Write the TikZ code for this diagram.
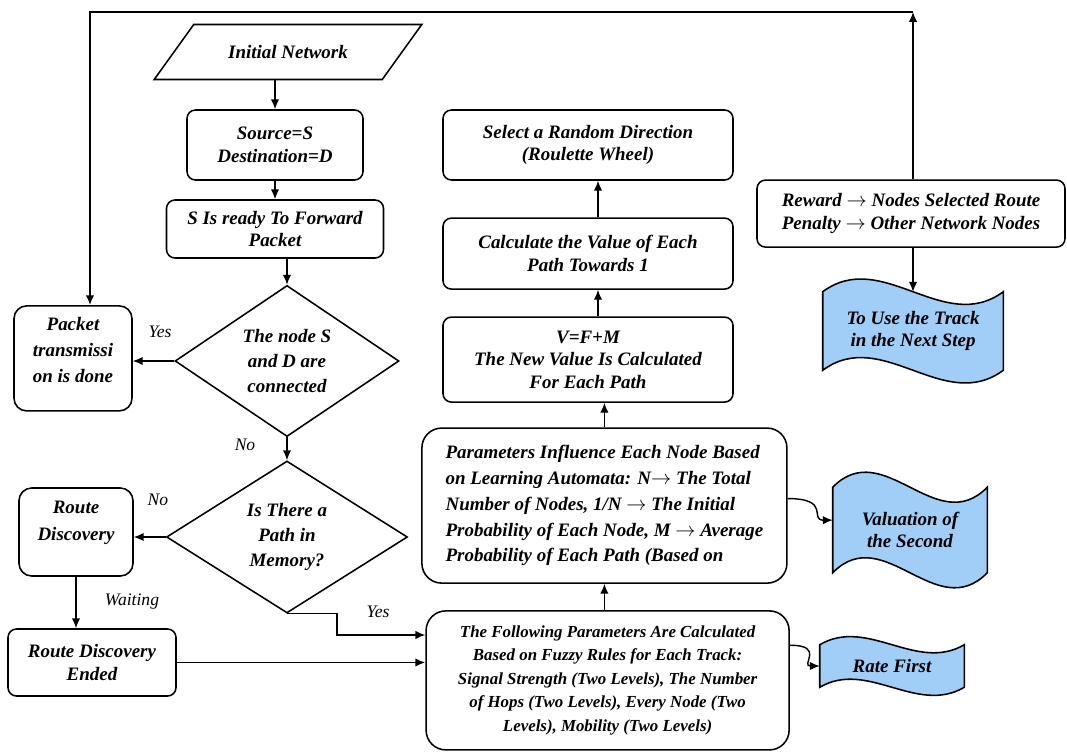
\documentclass[tikz,border=0pt]{standalone}
\usepackage{fontspec}
\setmainfont{Liberation Serif}
\usepackage{tikz}
\usetikzlibrary{arrows.meta,shapes.geometric,calc,backgrounds}
\definecolor{waveblue}{RGB}{160,206,247}

\newcommand{\boxfont}{\bfseries\itshape\fontsize{13.5}{16}\selectfont}
\newcommand{\wavebox}[2]{%
  \begin{scope}[on background layer]
  \draw[line width=1.1pt, fill=waveblue] (#1.north west)
    .. controls ($(#1.north west)!0.33!(#1.north east)+(0,#2)$)
    and ($(#1.north west)!0.67!(#1.north east)-(0,#2)$) .. (#1.north east)
    -- (#1.south east)
    .. controls ($(#1.south west)!0.67!(#1.south east)-(0,#2)$)
    and ($(#1.south west)!0.33!(#1.south east)+(0,#2)$) .. (#1.south west)
    -- cycle;
  \end{scope}}

\begin{document}
\begin{tikzpicture}[
    box/.style={rectangle, draw, line width=1.1pt, rounded corners=6pt,
                align=center, inner sep=2pt, font=\boxfont},
    decision/.style={diamond, draw, line width=1.1pt, align=center,
                inner sep=0pt, font=\bfseries\itshape\fontsize{13.5}{17.5}\selectfont},
    inout/.style={trapezium, trapezium left angle=40, trapezium right angle=140,
                trapezium stretches=true, draw, line width=1.1pt, font=\boxfont},
    wave/.style={rectangle, align=center, inner sep=0pt, font=\boxfont},
    lbl/.style={font=\itshape\fontsize{12.5}{14}\selectfont},
    arrow/.style={-{Latex[length=7pt,width=6pt]}, line width=1pt}
]
\useasboundingbox (0,0) rectangle (26.675,-18.825);

\node[inout, minimum width=6.7cm, minimum height=1.375cm] (init) at (7.2,-1.3) {Initial Network};
\node[box, minimum width=4.4cm, minimum height=1.75cm] (src) at (6.875,-3.625) {Source=S\\Destination=D};
\node[box, minimum width=5.425cm, minimum height=1.45cm] (ready) at (6.875,-5.725) {S Is ready To Forward\\Packet};
\node[decision, minimum width=5.6cm, minimum height=3.625cm] (conn) at (7.175,-9.025) {The node S\\and D are\\connected};
\node[box, rounded corners=9pt, minimum width=2.95cm, minimum height=2.625cm,
      font=\bfseries\itshape\fontsize{13.5}{18.5}\selectfont] (pkt) at (1.825,-8.96) {Packet\\transmissi\\on is done\\[-12pt]\strut};
\node[decision, minimum width=6.025cm, minimum height=3.8cm] (mem) at (7.175,-13.425) {Is There a\\Path in\\Memory?};
\node[box, rounded corners=9pt, minimum width=2.85cm, minimum height=2.2cm,
      font=\bfseries\itshape\fontsize{13.5}{19}\selectfont] (route) at (1.9,-13.3) {Route\\Discovery\\[-9pt]\strut};
\node[box, minimum width=4.2cm, minimum height=1.675cm] (ended) at (2.3,-16.5625) {Route Discovery\\Ended};

\node[box, rounded corners=14pt, minimum width=9.075cm, minimum height=3.475cm,
      font=\bfseries\itshape\fontsize{12}{16.7}\selectfont] (follow) at (15.19,-17.01)
  {The Following Parameters Are Calculated\\Based on Fuzzy Rules for Each Track:\\Signal Strength (Two Levels), The Number\\of Hops (Two Levels), Every Node (Two\\Levels), Mobility (Two Levels)};
\node[box, rounded corners=14pt, minimum width=9.125cm, minimum height=3.875cm, align=left,
      font=\bfseries\itshape\fontsize{13.5}{18.4}\selectfont] (param) at (15.11,-12.64)
  {Parameters Influence Each Node Based\\on Learning Automata: N$\rightarrow$ The Total\\Number of Nodes, 1/N $\rightarrow$ The Initial\\Probability of Each Node, M $\rightarrow$ Average\\Probability of Each Path (Based on};
\node[box, minimum width=7.25cm, minimum height=2.125cm] (vfm) at (14.7,-8.99) {V=F+M\\The New Value Is Calculated\\For Each Path};
\node[box, minimum width=7.25cm, minimum height=1.775cm] (calc) at (14.7,-6.34) {Calculate the Value of Each\\Path Towards 1};
\node[box, minimum width=7.25cm, minimum height=1.75cm] (sel) at (14.7,-3.625) {Select a Random Direction\\(Roulette Wheel)};

\node[box, minimum width=7.7cm, minimum height=1.675cm] (reward) at (22.775,-5.34)
  {Reward $\rightarrow$ Nodes Selected Route\\Penalty $\rightarrow$ Other Network Nodes};
\node[wave, minimum width=4.5cm, minimum height=1.95cm] (track) at (22.825,-8.275) {To Use the Track\\in the Next Step};
\node[wave, minimum width=3.85cm, minimum height=2.125cm] (valu) at (22.75,-13.25) {Valuation of\\the Second};
\node[wave, minimum width=3.6cm, minimum height=1.05cm] (rate) at (22.3,-16.65) {Rate First};
\wavebox{track}{1.1cm}
\wavebox{valu}{1.3cm}
\wavebox{rate}{0.7cm}

\node[lbl] (yes1) at (4.0,-8.3) {Yes};
\node[lbl] (no1) at (6.125,-11.125) {No};
\node[lbl] (no2) at (3.95,-12.5) {No};
\node[lbl] (wait) at (3.3,-15.05) {Waiting};
\node[lbl] (yes2) at (9.45,-15.3) {Yes};

\coordinate (topR) at (22.825,-0.3);
\coordinate (topL) at (2.25,-0.3);
\coordinate (yesbend) at (8.425,-15.875);
\coordinate (upx) at (14.95,0);

\draw[arrow] (src.north |- init.south) -- (src.north);
\draw[arrow] (src.south) -- (ready.north);
\draw[arrow] (conn.north |- ready.south) -- (conn.north);
\draw[arrow] (conn.west) -- (conn.west -| pkt.east);
\draw[arrow] (conn.south) -- (mem.north);
\draw[arrow] (mem.west) -- (mem.west -| route.east);
\draw[arrow] (route.south) -- (route.south |- ended.north);
\draw[arrow, line width=1.3pt] (ended.east) -- (ended.east -| follow.west);
\draw[arrow] (mem.south) -- (mem.south -| yesbend) -- (yesbend) -- (yesbend -| follow.west);
\draw[arrow] (param.south |- follow.north) -- (param.south);
\draw[arrow] (param.north) -- (param.north |- vfm.south);
\draw[arrow] (vfm.north -| upx) -- (calc.south -| upx);
\draw[arrow] (calc.north -| upx) -- (sel.south -| upx);
\draw[arrow] (reward.north -| topR) -- (topR);
\draw[arrow, line width=1.2pt] (topR) -- (topL) -- (topL |- pkt.north);
\draw[arrow] (reward.south -| track.north) -- (track.north);
\draw[arrow] ([yshift=5pt]param.east) .. controls +(1.1,0) and +(-0.6,0) .. ([yshift=7pt]valu.west);
\draw[arrow] ([yshift=25pt]follow.east) .. controls +(0.9,0) and +(-0.5,0) .. (rate.west);
\end{tikzpicture}
\end{document}
